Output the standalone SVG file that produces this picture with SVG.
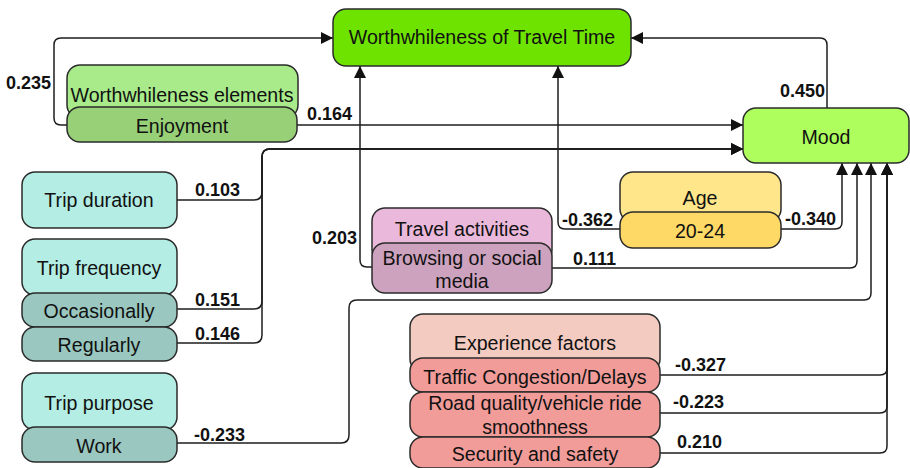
<svg xmlns="http://www.w3.org/2000/svg" width="910" height="468" viewBox="0 0 910 468">
  <style>
    .node rect { stroke: #2b2b2b; stroke-width: 1.5; }
    .node text { font-family: "Liberation Sans", Arial, sans-serif; font-size: 19.6px; fill: #111; text-anchor: middle; }
    .edge { fill: none; stroke: #1e1e1e; stroke-width: 1.5; }
    .lbl { font-family: "Liberation Sans", Arial, sans-serif; font-size: 18px; font-weight: bold; fill: #111; }
  </style>
  <defs>
    <marker id="arrow" markerUnits="userSpaceOnUse" markerWidth="13" markerHeight="13" refX="12" refY="6" orient="auto">
      <path d="M0,0 L12,6 L0,12 z" fill="#111"/>
    </marker>
  </defs>
  <rect width="910" height="468" fill="#ffffff"/>

  <!-- connectors -->
  <g id="connectors">
    <path class="edge" d="M67,125 H61 Q54,125 54,118 V45 Q54,38 61,38 H333" marker-end="url(#arrow)"/>
    <path class="edge" d="M297,125 H743" marker-end="url(#arrow)"/>
    <path class="edge" d="M177,200 H254 Q262,200 262,192 V157 Q262,149 270,149 H743" marker-end="url(#arrow)"/>
    <path class="edge" d="M177,309 H254 Q262,309 262,301 V157 Q262,149 270,149 H743" marker-end="url(#arrow)"/>
    <path class="edge" d="M177,343 H254 Q262,343 262,335 V157 Q262,149 270,149 H743" marker-end="url(#arrow)"/>
    <path class="edge" d="M372,267 H367 Q360,267 360,260 V66" marker-end="url(#arrow)"/>
    <path class="edge" d="M620,229 H565 Q558,229 558,222 V66" marker-end="url(#arrow)"/>
    <path class="edge" d="M781,229 H835 Q842,229 842,222 V163" marker-end="url(#arrow)"/>
    <path class="edge" d="M552,268 H850 Q857,268 857,261 V163" marker-end="url(#arrow)"/>
    <path class="edge" d="M177,443 H341 Q349,443 349,435 V308 Q349,300 357,300 H864 Q871,300 871,293 V163" marker-end="url(#arrow)"/>
    <path class="edge" d="M660,375 H880 Q887,375 887,368 V163" marker-end="url(#arrow)"/>
    <path class="edge" d="M660,413 H880 Q887,413 887,406 V163" marker-end="url(#arrow)"/>
    <path class="edge" d="M660,453 H880 Q887,453 887,446 V163" marker-end="url(#arrow)"/>
    <path class="edge" d="M827,108 V45 Q827,38 820,38 H631" marker-end="url(#arrow)"/>
  </g>

  <!-- coefficient labels -->
  <g id="labels">
    <text class="lbl" x="6" y="89">0.235</text>
    <text class="lbl" x="307" y="120">0.164</text>
    <text class="lbl" x="780" y="97">0.450</text>
    <text class="lbl" x="195" y="196">0.103</text>
    <text class="lbl" x="195" y="306">0.151</text>
    <text class="lbl" x="195" y="340">0.146</text>
    <text class="lbl" x="312" y="244">0.203</text>
    <text class="lbl" x="562" y="226">-0.362</text>
    <text class="lbl" x="573" y="265">0.111</text>
    <text class="lbl" x="785" y="225">-0.340</text>
    <text class="lbl" x="675" y="371">-0.327</text>
    <text class="lbl" x="673" y="408">-0.223</text>
    <text class="lbl" x="677" y="448">0.210</text>
    <text class="lbl" x="194" y="441">-0.233</text>
  </g>

  <!-- nodes -->
  <g id="wtt" class="node">
    <rect x="333" y="9" width="298" height="57" rx="13" fill="#6FE300"/>
    <text x="482" y="44">Worthwhileness of Travel Time</text>
  </g>
  <g id="worthwhileness-elements" class="node">
    <rect x="67" y="65" width="231" height="53" rx="13" fill="#A9EB8A"/>
    <text x="182" y="102">Worthwhileness elements</text>
  </g>
  <g id="enjoyment" class="node">
    <rect x="67" y="107" width="230" height="35" rx="13" fill="#97D077"/>
    <text x="182" y="133">Enjoyment</text>
  </g>
  <g id="mood" class="node">
    <rect x="743" y="108" width="166" height="55" rx="13" fill="#AEFF5E"/>
    <text x="826" y="144">Mood</text>
  </g>
  <g id="trip-duration" class="node">
    <rect x="22" y="172" width="155" height="56" rx="13" fill="#B3EDE3"/>
    <text x="99" y="207">Trip duration</text>
  </g>
  <g id="trip-frequency" class="node">
    <rect x="22" y="239" width="155" height="56" rx="13" fill="#B3EDE3"/>
    <text x="99" y="275">Trip frequency</text>
  </g>
  <g id="occasionally" class="node">
    <rect x="22" y="293" width="155" height="34" rx="13" fill="#9AC7BF"/>
    <text x="99" y="318">Occasionally</text>
  </g>
  <g id="regularly" class="node">
    <rect x="22" y="327" width="155" height="34" rx="13" fill="#9AC7BF"/>
    <text x="99" y="352">Regularly</text>
  </g>
  <g id="trip-purpose" class="node">
    <rect x="22" y="373" width="155" height="57" rx="13" fill="#B3EDE3"/>
    <text x="99" y="410">Trip purpose</text>
  </g>
  <g id="work" class="node">
    <rect x="22" y="427" width="155" height="35" rx="13" fill="#9AC7BF"/>
    <text x="99" y="453">Work</text>
  </g>
  <g id="travel-activities" class="node">
    <rect x="372" y="208" width="180" height="55" rx="13" fill="#EAB8DA"/>
    <text x="462" y="236">Travel activities</text>
  </g>
  <g id="browsing" class="node">
    <rect x="372" y="243" width="180" height="50" rx="13" fill="#CDA2BE"/>
    <text x="462" y="265">Browsing or social</text>
    <text x="462" y="288">media</text>
  </g>
  <g id="age" class="node">
    <rect x="620" y="172" width="161" height="50" rx="13" fill="#FFE68A"/>
    <text x="700" y="205">Age</text>
  </g>
  <g id="age-20-24" class="node">
    <rect x="620" y="212" width="161" height="36" rx="13" fill="#FFD966"/>
    <text x="700" y="238">20-24</text>
  </g>
  <g id="experience-factors" class="node">
    <rect x="410" y="314" width="250" height="58" rx="13" fill="#F3CBC1"/>
    <text x="535" y="350">Experience factors</text>
  </g>
  <g id="traffic" class="node">
    <rect x="410" y="358" width="250" height="34" rx="13" fill="#F19C99"/>
    <text x="535" y="384">Traffic Congestion/Delays</text>
  </g>
  <g id="road-quality" class="node">
    <rect x="410" y="392" width="250" height="45" rx="13" fill="#F19C99"/>
    <text x="535" y="410">Road quality/vehicle ride</text>
    <text x="535" y="434">smoothness</text>
  </g>
  <g id="security" class="node">
    <rect x="410" y="437" width="250" height="31" rx="13" fill="#F19C99"/>
    <text x="535" y="461">Security and safety</text>
  </g>
</svg>
